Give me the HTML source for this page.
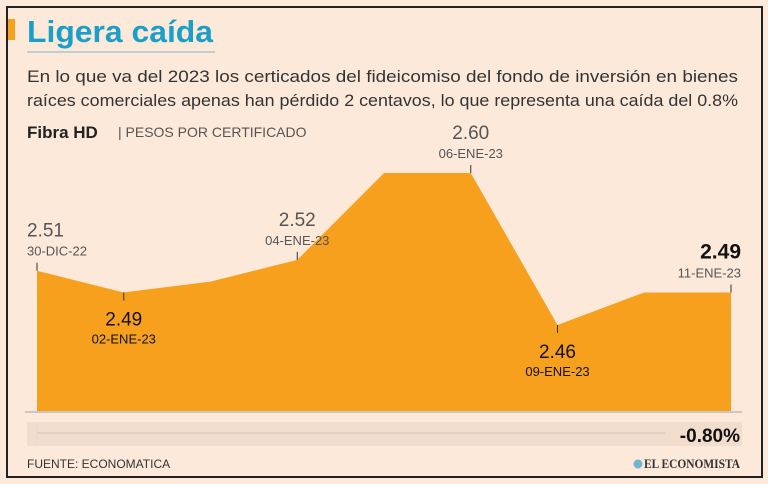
<!DOCTYPE html>
<html><head><meta charset="utf-8"><style>
body{margin:0;width:768px;height:484px;background:#fde9da;font-family:"Liberation Sans",sans-serif;overflow:hidden}
#frame{position:absolute;left:6px;top:6px;width:753px;height:468px;border:2px solid #222;background:#fde9da}
</style></head><body>
<div id="frame"></div>
<svg width="768" height="484" style="position:absolute;left:0;top:0">
<rect x="8" y="19" width="7" height="21" fill="#f7a01e"/>
<text x="27" y="42" font-size="31" font-weight="bold" fill="#1aa0c8" textLength="186" lengthAdjust="spacingAndGlyphs">Ligera caída</text>
<line x1="27" y1="52" x2="215" y2="52" stroke="#7ab8c8" stroke-width="1"/>
<text x="27" y="82" font-size="17" fill="#333" textLength="711" lengthAdjust="spacingAndGlyphs">En lo que va del 2023 los certicados del fideicomiso del fondo de inversión en bienes</text>
<text x="27" y="106" font-size="17" fill="#333" textLength="711" lengthAdjust="spacingAndGlyphs">raíces comerciales apenas han pérdido 2 centavos, lo que representa una caída del 0.8%</text>
<text x="27" y="138" font-size="17" font-weight="bold" fill="#222">Fibra HD</text>
<text x="118" y="137" font-size="14" fill="#555">| PESOS POR CERTIFICADO</text>
<g id="plot"></g>
<line x1="25" y1="412" x2="742" y2="412" stroke="#bbb" stroke-width="1.5"/>
<rect x="27" y="422" width="715" height="24" fill="#f2dccd"/>
<line x1="37" y1="423" x2="37" y2="445" stroke="#ddd"/>
<line x1="37" y1="433" x2="665" y2="433" stroke="#d4c3b6"/>
<text x="740" y="442" font-size="19" font-weight="bold" text-anchor="end" fill="#111">-0.80%</text>
<text x="27" y="468" font-size="12" fill="#333">FUENTE: ECONOMATICA</text>
<circle cx="638" cy="464" r="4.5" fill="#6fb7d2"/>
<text x="740" y="468" font-size="13" font-family="Liberation Serif" font-weight="bold" text-anchor="end" fill="#333" textLength="96" lengthAdjust="spacingAndGlyphs">EL ECONOMISTA</text>
</svg>
<script>
const dates=["30-DIC-22","02-ENE-23","03-ENE-23","04-ENE-23","05-ENE-23","06-ENE-23","09-ENE-23","10-ENE-23","11-ENE-23"];
const values=[2.51,2.49,2.50,2.52,2.60,2.60,2.46,2.49,2.49];
const labeled=[0,1,3,5,6,8];
const below=[1,6];
const NS="http://www.w3.org/2000/svg";
const xs=i=>37+i*86.75;
const ys=v=>173+(2.60-v)*1086;
const base=411;
const g=document.getElementById('plot');
let d=`M${xs(0)},${base}`;
values.forEach((v,i)=>d+=` L${xs(i)},${ys(v)}`);
d+=` L${xs(values.length-1)},${base} Z`;
const p=document.createElementNS(NS,'path');
p.setAttribute('d',d);p.setAttribute('fill','#f7a01e');


g.appendChild(p);
labeled.forEach(i=>{
  const x=xs(i),y=ys(values[i]),b=below.includes(i),last=i===values.length-1;
  const t=document.createElementNS(NS,'line');
  t.setAttribute('x1',x);t.setAttribute('x2',x);
  t.setAttribute('y1',b?y:y-8);t.setAttribute('y2',b?y+8:y);
  t.setAttribute('stroke','#333');
  
  
  g.appendChild(t);
  let anchor='middle',tx=x;
  if(i===0){anchor='start';tx=x-10;}
  if(last){anchor='end';tx=x+10;}
  const v=document.createElementNS(NS,'text');
  v.textContent=values[i].toFixed(2);
  v.setAttribute('x',tx);v.setAttribute('text-anchor',anchor);
  v.setAttribute('y',b?y+33:y-34);
  v.setAttribute('font-size',last?21:19);
  if(last)v.setAttribute('font-weight','bold');
  v.setAttribute('fill',b||last?'#111':'#555');
  
  
  g.appendChild(v);
  const dt=document.createElementNS(NS,'text');
  dt.textContent=dates[i];
  dt.setAttribute('x',tx);dt.setAttribute('text-anchor',anchor);
  dt.setAttribute('y',b?y+51:y-15);
  dt.setAttribute('font-size',13);
  dt.setAttribute('fill',b?'#111':'#555');
  
  
  g.appendChild(dt);
});
</script>
</body></html>
